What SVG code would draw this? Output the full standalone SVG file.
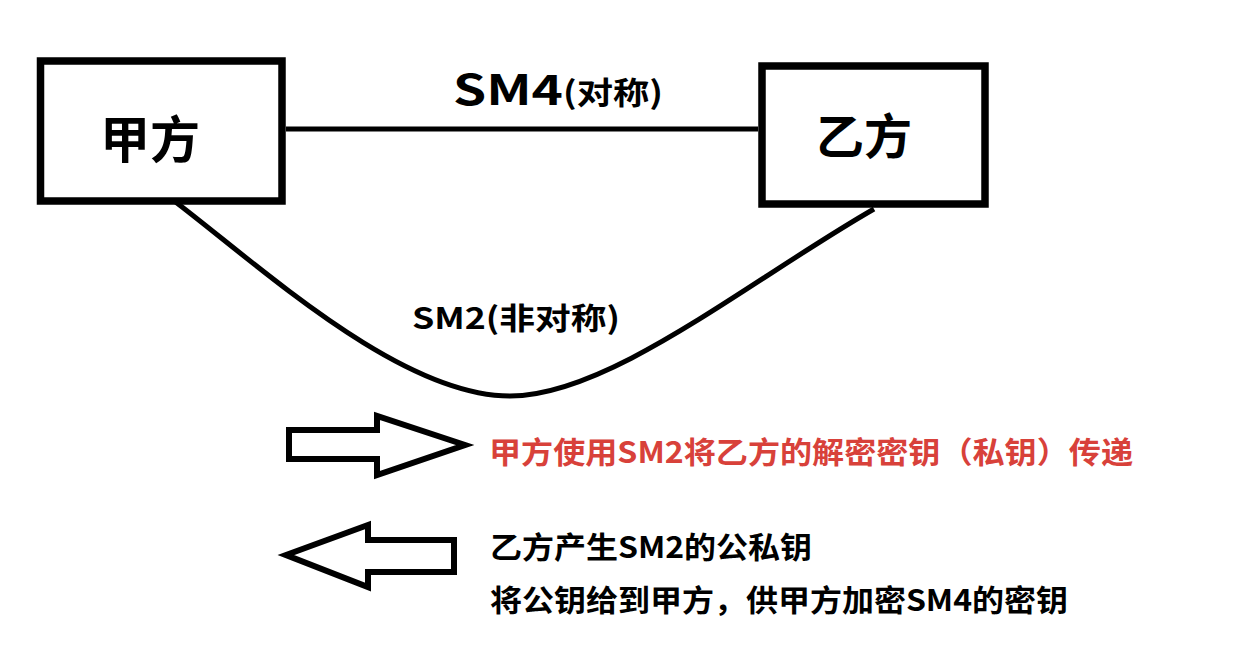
<svg xmlns="http://www.w3.org/2000/svg" width="1238" height="655" viewBox="0 0 1238 655">
<style>
.box{fill:#fff;stroke:#000;stroke-width:7.5}
.line{fill:none;stroke:#000;stroke-width:5}
.arrow{fill:#fff;stroke:#000;stroke-width:6;stroke-linejoin:miter}
.t{font-family:"Noto Sans CJK SC","Liberation Sans",sans-serif;font-weight:bold;fill:#000}
.red{fill:#d8413a}
</style>
<rect width="1238" height="655" fill="#fff"/>
<g id="connectors">
<line class="line" x1="286" y1="129" x2="758" y2="129"/>
<path class="line" d="M173,200 C260,266 400,396 510,396 C610,396 750,280 874,209"/>
<text class="t" x="453" y="105" font-size="42" textLength="110" lengthAdjust="spacingAndGlyphs">SM4</text>
<text class="t" x="563" y="104" font-size="31" textLength="100" lengthAdjust="spacingAndGlyphs">(对称)</text>
<text class="t" x="412" y="329" font-size="30" textLength="208" lengthAdjust="spacingAndGlyphs">SM2(非对称)</text>
</g>
<g id="node-jiafang">
<rect class="box" x="40.5" y="61" width="241.5" height="140"/>
<text class="t" x="150" y="158" font-size="50" text-anchor="middle">甲方</text>
</g>
<g id="node-yifang">
<rect class="box" x="762" y="66" width="223" height="138"/>
<text class="t" x="864" y="154" font-size="48" text-anchor="middle">乙方</text>
</g>
<g id="arrow-right">
<polygon class="arrow" points="289,430 377,430 377,416 465,445 377,475 377,459 289,459"/>
</g>
<g id="arrow-left">
<polygon class="arrow" points="286,555 368,525 368,540 454,540 454,572 368,572 368,587"/>
</g>
<g id="labels">
<text class="t red" x="489" y="463" font-size="30" textLength="644" lengthAdjust="spacingAndGlyphs">甲方使用SM2将乙方的解密密钥（私钥）传递</text>
<text class="t" x="490" y="558" font-size="30" textLength="322" lengthAdjust="spacingAndGlyphs">乙方产生SM2的公私钥</text>
<text class="t" x="490" y="611" font-size="30" textLength="578" lengthAdjust="spacingAndGlyphs">将公钥给到甲方，供甲方加密SM4的密钥</text>
</g>
</svg>
